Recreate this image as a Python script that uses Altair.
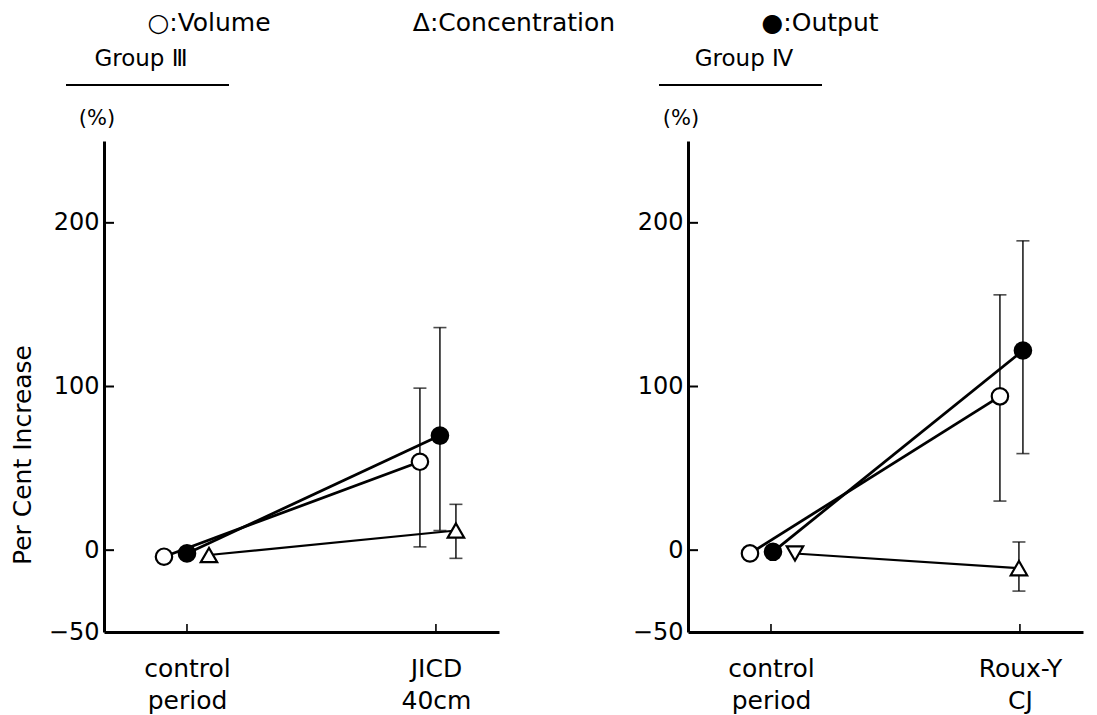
import altair as alt
import pandas as pd

# ---------------- data ----------------
series_names = ["Volume", "Concentration", "Output"]
panel_names = ["Group Ⅲ", "Group Ⅳ"]
period_labels = {
    "Group Ⅲ": ["control|period", "JICD|40cm"],
    "Group Ⅳ": ["control|period", "Roux-Y|CJ"],
}
period_pos = [1, 4]  # control, after operation

# mean per cent increase [control, after]
volume_III = [-4, 54]
conc_III = [-3, 12]
output_III = [-2, 70]
volume_IV = [-2, 94]
conc_IV = [-2, -11]
output_IV = [-1, 122]

# error bars (low, high) after operation
volume_III_err = [2, 99]
conc_III_err = [-5, 28]
output_III_err = [12, 136]
volume_IV_err = [30, 156]
conc_IV_err = [-25, 5]
output_IV_err = [59, 189]

y_tick_values = [-50, 0, 100, 200]
y_title = "Per Cent Increase"
legend_texts = ["○:Volume", "Δ:Concentration", "●:Output"]

# ---------------- style ----------------
W, H = 395, 491
XMAX = 4.76
PX = W / XMAX
offsets = {
    "Group Ⅲ": {"Volume": [-23, -16], "Output": [0, 4], "Concentration": [22, 20]},
    "Group Ⅳ": {"Volume": [-21, -20], "Output": [2, 3], "Concentration": [24, -1]},
}
shapes = {
    "Group Ⅲ": {"Volume": ["circle", "circle"], "Output": ["circle", "circle"],
                "Concentration": ["triangle-up", "triangle-up"]},
    "Group Ⅳ": {"Volume": ["circle", "circle"], "Output": ["circle", "circle"],
                "Concentration": ["triangle-down", "triangle-up"]},
}
fills = {"Volume": "white", "Output": "black", "Concentration": "white"}
widths = {"Volume": 2.8, "Output": 2.8, "Concentration": 2.1}
FONT = "DejaVu Sans, Noto Sans CJK JP"
legend_x = [105, 410, 716]

values = {
    "Group Ⅲ": {"Volume": (volume_III, volume_III_err), "Concentration": (conc_III, conc_III_err),
                "Output": (output_III, output_III_err)},
    "Group Ⅳ": {"Volume": (volume_IV, volume_IV_err), "Concentration": (conc_IV, conc_IV_err),
                "Output": (output_IV, output_IV_err)},
}

rows = []
for p in panel_names:
    for s in series_names:
        vals, err = values[p][s]
        for i in range(2):
            rows.append({
                "panel": p, "series": s, "period": i,
                "x": period_pos[i] + offsets[p][s][i] / PX,
                "value": vals[i],
                "lo": err[0] if i == 1 else None,
                "hi": err[1] if i == 1 else None,
                "shape": shapes[p][s][i],
                "fill": fills[s],
                "sw": widths[s],
            })
df = pd.DataFrame(rows)


def label_expr(p):
    parts = []
    for pos, lab in zip(period_pos, period_labels[p]):
        a, b = lab.split("|")
        parts.append((pos, f"['{a}','{b}']"))
    return f"datum.value == {parts[0][0]} ? {parts[0][1]} : {parts[1][1]}"


def panel(p, first):
    d = df[df.panel == p]
    xsc = alt.Scale(domain=[0, XMAX], nice=False, zero=False)
    ysc = alt.Scale(domain=[-50, 250], nice=False, zero=False)
    yaxis = alt.Axis(values=y_tick_values, title=None)
    xaxis = alt.Axis(values=period_pos, labelExpr=label_expr(p), title=None,
                     labelFontSize=25, labelPadding=24, labelLineHeight=32, labelBaseline="top")

    lines = alt.Chart(d).mark_line(color="black").encode(
        x=alt.X("x:Q", scale=xsc, axis=xaxis),
        y=alt.Y("value:Q", scale=ysc, axis=yaxis),
        detail="series:N",
        order="period:Q",
        strokeWidth=alt.StrokeWidth("sw:Q", scale=None),
    )
    e = d[d.lo.notna()]
    bars = alt.Chart(e).mark_rule(color="black", strokeWidth=1.4).encode(
        x=alt.X("x:Q", scale=xsc, title=None), y=alt.Y("lo:Q", scale=ysc, title=None), y2="hi:Q")
    cap_lo = alt.Chart(e).mark_tick(color="black", orient="horizontal", size=13, thickness=1.6).encode(
        x=alt.X("x:Q", scale=xsc, title=None), y=alt.Y("lo:Q", scale=ysc, title=None))
    cap_hi = alt.Chart(e).mark_tick(color="black", orient="horizontal", size=13, thickness=1.6).encode(
        x=alt.X("x:Q", scale=xsc, title=None), y=alt.Y("hi:Q", scale=ysc, title=None))
    pts = alt.Chart(d).mark_point(stroke="black", strokeWidth=2.2, opacity=1, size=270, filled=False).encode(
        x=alt.X("x:Q", scale=xsc, title=None),
        y=alt.Y("value:Q", scale=ysc, title=None),
        shape=alt.Shape("shape:N", scale=None),
        fill=alt.Fill("fill:N", scale=None),
    )
    yt = alt.Chart(pd.DataFrame({"t": [v for v in y_tick_values if v > -50]})).mark_rule(
        color="black", strokeWidth=2).encode(
        y=alt.Y("t:Q", scale=ysc, title=None), x=alt.value(0), x2=alt.value(10))
    xt = alt.Chart(pd.DataFrame({"t": period_pos})).mark_rule(color="black", strokeWidth=1.6).encode(
        x=alt.X("t:Q", scale=xsc, title=None), y=alt.value(H), y2=alt.value(H - 8))

    gx = 37 if first else 56
    ux = (-38, 125) if first else (-29, 134)
    title_df = pd.DataFrame({"t": [p]})
    gtitle = alt.Chart(title_df).mark_text(font=FONT, fontSize=23, color="black").encode(
        text="t:N", x=alt.value(gx), y=alt.value(-82))
    uline = alt.Chart(title_df).mark_rule(color="black", strokeWidth=2).encode(
        x=alt.value(ux[0]), x2=alt.value(ux[1]), y=alt.value(-56))
    pct = alt.Chart(pd.DataFrame({"t": ["(%)"]})).mark_text(font=FONT, fontSize=21, color="black").encode(
        text="t:N", x=alt.value(-7 if first else -7), y=alt.value(-22))

    layers = [lines, bars, cap_lo, cap_hi, pts, yt, xt, gtitle, uline, pct]
    if first:
        layers.append(alt.Chart(pd.DataFrame({"t": [y_title]})).mark_text(
            font=FONT, fontSize=25, color="black", angle=270).encode(
            text="t:N", x=alt.value(-81), y=alt.value(314)))
        for lx, lt in zip(legend_x, legend_texts):
            layers.append(alt.Chart(pd.DataFrame({"t": [lt]})).mark_text(
                font=FONT, fontSize=25, color="black").encode(
                text="t:N", x=alt.value(lx), y=alt.value(-118)))
    return alt.layer(*layers).properties(width=W, height=H)


chart = alt.hconcat(panel(panel_names[0], True), panel(panel_names[1], False),
                    spacing=189, bounds="flush").properties(
    padding={"left": 3, "top": 3, "right": 5, "bottom": 5},
    background="white",
).configure_view(stroke=None).configure_axis(
    domainColor="black", domainWidth=3, tickSize=0, grid=False, labelFont=FONT,
    labelColor="black", labelFontSize=24, labelPadding=5, titleFont=FONT,
)

chart.save("out.html", embed_options={"renderer": "svg", "actions": False})
